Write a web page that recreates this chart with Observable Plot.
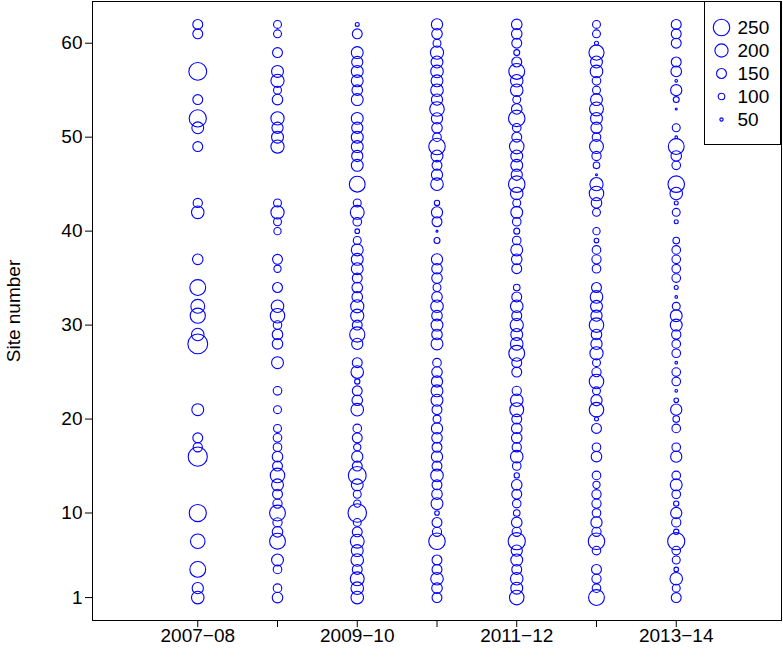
<!DOCTYPE html>
<html><head><meta charset="utf-8">
<script src="https://cdn.jsdelivr.net/npm/d3@7"></script>
<script src="https://cdn.jsdelivr.net/npm/@observablehq/plot@0.6"></script>
<style>
body{margin:0;background:#fff;}
#wrap{position:relative;width:783px;height:663px;font-family:"Liberation Sans",Arial,sans-serif;}
#legend{position:absolute;left:704px;top:1px;width:77px;height:144px;border:1px solid #000;background:#fff;box-sizing:border-box;}
#legend svg, #chart svg{display:block;}
</style></head><body>
<div id="wrap"><div id="chart"></div><div id="legend"></div></div>
<script>
const seasons = ["2007-08","2008-09","2009-10","2010-11","2011-12","2012-13","2013-14"];
const yTicks = [1,10,20,30,40,50,60];
const legendValues = [250,200,150,100,50];

// [site, value] pairs per season
const s2007_08 = [[62,150],[61,150],[57,270],[54,150],[52,260],[51,180],[49,150],[43,140],[42,190],[37,160],[34,240],[32,210],[31,230],[29,190],[28,300],[21,180],[18,150],[17,140],[16,290],[10,260],[7,220],[4,240],[2,170],[1,190]];
const s2008_09 = [[62,120],[61,120],[59,150],[57,180],[56,200],[55,120],[54,160],[52,200],[51,170],[50,180],[49,200],[43,120],[42,200],[41,120],[40,110],[37,150],[36,110],[34,150],[32,190],[31,220],[30,130],[29,160],[28,160],[26,180],[23,130],[21,120],[19,120],[18,130],[17,130],[16,160],[15,150],[14,220],[13,180],[12,150],[11,140],[10,240],[9,140],[8,160],[7,240],[5,180],[4,130],[2,130],[1,160]];
const s2009_10 = [[62,60],[61,150],[59,180],[58,170],[57,180],[56,180],[55,160],[54,180],[52,180],[51,170],[50,180],[49,180],[48,170],[47,180],[45,240],[43,120],[42,210],[41,130],[40,70],[39,120],[38,180],[37,180],[36,180],[35,150],[34,160],[33,160],[32,200],[31,200],[30,150],[29,230],[28,170],[26,150],[25,190],[24,80],[23,150],[22,160],[21,190],[19,130],[18,150],[17,110],[16,170],[15,150],[14,270],[13,180],[12,120],[11,110],[10,280],[9,120],[8,150],[7,210],[6,180],[5,190],[4,150],[3,210],[2,190],[1,190]];
const s2010_11 = [[62,170],[61,160],[60,120],[59,200],[58,180],[57,190],[56,180],[55,190],[54,170],[53,220],[52,170],[51,160],[50,130],[49,250],[48,180],[47,150],[46,170],[45,190],[43,80],[42,170],[41,150],[40,30],[39,90],[37,170],[36,160],[35,160],[34,120],[33,160],[32,190],[31,160],[30,180],[29,160],[28,180],[26,130],[25,160],[24,170],[23,180],[22,180],[21,150],[20,120],[19,170],[18,160],[17,150],[16,170],[15,150],[14,190],[13,150],[12,160],[11,180],[10,70],[9,150],[8,140],[7,250],[5,150],[4,150],[3,190],[2,160],[1,150]];
const s2011_12 = [[62,160],[61,160],[60,150],[59,90],[58,150],[57,240],[56,190],[55,190],[54,120],[53,160],[52,250],[51,130],[50,150],[49,220],[48,180],[47,180],[46,170],[45,250],[44,190],[43,120],[42,180],[41,130],[40,90],[39,130],[38,180],[37,160],[36,150],[34,100],[33,150],[32,190],[31,150],[30,200],[29,180],[28,190],[27,240],[26,150],[25,150],[23,140],[22,190],[21,210],[20,150],[19,160],[18,160],[17,140],[16,190],[15,130],[14,80],[13,160],[12,150],[11,130],[10,100],[9,160],[8,140],[7,260],[6,170],[5,180],[4,150],[3,190],[2,180],[1,220]];
const s2012_13 = [[62,120],[61,120],[60,60],[59,230],[58,180],[57,190],[56,130],[55,120],[54,180],[53,210],[52,180],[51,170],[50,130],[49,210],[48,140],[47,100],[46,30],[45,200],[44,220],[43,160],[42,120],[40,110],[39,70],[38,130],[37,140],[36,130],[34,150],[33,190],[32,180],[31,170],[30,220],[29,160],[28,170],[27,200],[26,120],[25,140],[24,220],[23,120],[22,170],[21,220],[20,60],[19,150],[17,130],[16,160],[14,130],[13,110],[12,140],[11,140],[10,130],[9,170],[8,140],[7,250],[6,130],[4,150],[3,140],[2,130],[1,240]];
const s2013_14 = [[62,150],[61,150],[60,150],[58,150],[57,160],[56,40],[55,170],[54,90],[53,30],[51,120],[50,40],[49,240],[48,160],[47,130],[45,250],[44,190],[43,60],[42,120],[41,60],[39,100],[38,130],[37,130],[36,130],[35,130],[34,60],[33,40],[32,120],[31,180],[30,180],[29,140],[28,130],[27,130],[26,40],[25,130],[24,130],[23,40],[22,70],[21,170],[20,100],[19,130],[17,130],[16,170],[14,130],[13,180],[12,130],[11,80],[10,170],[9,140],[8,80],[7,260],[6,130],[5,120],[4,70],[3,190],[2,120],[1,150]];

const seasonData = [s2007_08, s2008_09, s2009_10, s2010_11, s2011_12, s2012_13, s2013_14];
const data = seasonData.flatMap((arr, i) => arr.map(([site, value]) => ({season: i + 1, site, value})));
const seasonIdx = seasons.map((s, i) => i + 1);
const fmtSeason = s => s.replace("-", "\u2212");

const font = "'Liberation Sans', Arial, sans-serif";
const rScale = {type: "linear", domain: [0, 250], range: [0, 8.25]};

const chart = Plot.plot({
  width: 783, height: 663,
  marginLeft: 92, marginRight: 2, marginTop: 1, marginBottom: 43,
  style: {fontFamily: font, fontSize: "19px", color: "#000", background: "#fff", overflow: "visible"},
  x: {domain: [-0.32, 8.32]},
  y: {domain: [-1.44, 64.44]},
  r: rScale,
  marks: [
    Plot.frame({stroke: "#000", strokeWidth: 1}),
    Plot.axisX({ticks: seasonIdx, tickSize: 7, tickPadding: 1, label: null,
      tickFormat: d => (d % 2 === 1 ? fmtSeason(seasons[d - 1]) : "")}),
    Plot.axisY({ticks: yTicks, tickSize: 7, tickPadding: 3, label: "Site number",
      labelAnchor: "center", labelArrow: "none", labelOffset: 86}),
    Plot.dot(data, {x: "season", y: "site", r: "value", stroke: "blue", strokeWidth: 1.1, fill: "none"})
  ]
});
document.getElementById("chart").appendChild(chart);

const legend = Plot.plot({
  width: 75, height: 142,
  margin: 0,
  style: {fontFamily: font, fontSize: "19px", color: "#000", background: "#fff"},
  y: {type: "point", domain: legendValues, range: [24, 118], padding: 0, axis: null},
  r: rScale,
  marks: [
    Plot.dot(legendValues, {y: d => d, r: d => d, frameAnchor: "left", dx: 16, stroke: "blue", strokeWidth: 1.1, fill: "none"}),
    Plot.text(legendValues, {y: d => d, text: d => String(d), frameAnchor: "left", dx: 32, textAnchor: "start", fill: "#000"})
  ]
});
document.getElementById("legend").appendChild(legend);
</script>
</body></html>
